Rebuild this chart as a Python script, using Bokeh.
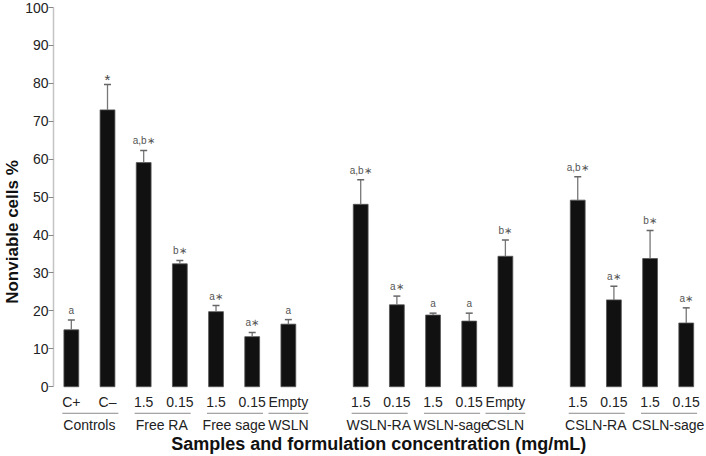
from bokeh.plotting import figure
from bokeh.models import Range1d, FixedTicker, ColumnDataSource
from bokeh.core.properties import value
from bokeh.embed import file_html
from bokeh.resources import INLINE

# ---- data ----
sub_labels = ["C+", "C–", "1.5", "0.15", "1.5", "0.15", "Empty",
              "1.5", "0.15", "1.5", "0.15", "Empty",
              "1.5", "0.15", "1.5", "0.15"]
groups = ["Controls", "Free RA", "Free sage", "WSLN",
          "WSLN-RA", "WSLN-sage", "CSLN",
          "CSLN-RA", "CSLN-sage"]
group_sizes = [2, 2, 2, 1, 2, 2, 1, 2, 2]
section_sizes = [4, 3, 2]  # number of groups per section (blank slot between sections)
values = [15.0, 73.0, 59.1, 32.4, 19.8, 13.2, 16.5,
          48.1, 21.6, 18.9, 17.3, 34.4,
          49.2, 22.9, 33.8, 16.8]
errors = [2.6, 6.7, 3.2, 0.9, 1.6, 1.1, 1.2,
          6.5, 2.3, 0.5, 2.1, 4.3,
          6.2, 3.6, 7.4, 4.0]
sig_labels = ["a", "*", "a,b∗", "b∗", "a∗", "a∗", "a",
              "a,b∗", "a∗", "a", "a", "b∗",
              "a,b∗", "a∗", "b∗", "a∗"]
yticks = [0, 10, 20, 30, 40, 50, 60, 70, 80, 90, 100]

# ---- positions (slot index, with an empty slot between sections) ----
xs = []
group_first, group_last = [], []
slot = 0
gi = 0
for s, ns in enumerate(section_sizes):
    for _ in range(ns):
        n = group_sizes[gi]
        group_first.append(slot)
        for _ in range(n):
            xs.append(slot)
            slot += 1
        group_last.append(slot - 1)
        gi += 1
    slot += 1  # gap

tops = [v + e for v, e in zip(values, errors)]

src = ColumnDataSource(dict(x=xs, v=values, top=tops, sub=sub_labels))
small_idx = [i for i, t in enumerate(sig_labels) if t != "*"]
big_idx = [i for i, t in enumerate(sig_labels) if t == "*"]
lab_small = ColumnDataSource(dict(x=[xs[i] for i in small_idx], top=[tops[i] for i in small_idx],
                                  lab=[sig_labels[i] for i in small_idx]))
lab_big = ColumnDataSource(dict(x=[xs[i] for i in big_idx], top=[tops[i] for i in big_idx],
                                lab=[sig_labels[i] for i in big_idx]))

FONT = "Liberation Sans"

p = figure(width=706, height=456, output_backend="svg", toolbar_location=None,
           x_range=Range1d(-0.493, 17.56), y_range=Range1d(-18.4, 100),
           x_axis_location=None,
           min_border_left=47, min_border_right=0, min_border_top=7, min_border_bottom=0)
p.outline_line_color = None
p.xgrid.visible = False
p.ygrid.visible = False
p.background_fill_color = "white"
p.border_fill_color = "white"

ya = p.yaxis[0]
ya.bounds = (0, 100)
ya.ticker = FixedTicker(ticks=yticks)
ya.axis_line_color = "#c4c4c4"
ya.axis_line_width = 1.5
ya.major_tick_line_color = "#888888"
ya.major_tick_out = 5
ya.major_tick_in = 0
ya.minor_tick_line_color = None
ya.major_label_text_font = FONT
ya.major_label_text_font_size = "14px"
ya.major_label_text_color = "#222222"
ya.major_label_standoff = 0
ya.axis_label = "Nonviable cells %"
ya.axis_label_text_font = FONT
ya.axis_label_text_font_style = "bold"
ya.axis_label_text_font_size = "17px"
ya.axis_label_text_color = "#111111"
ya.axis_label_standoff = 0

# bars
p.vbar(x="x", top="v", bottom=0, width=0.41, source=src,
       fill_color="#111111", line_color="#555555", line_width=0.8)
# error bars
p.segment(x0="x", y0="v", x1="x", y1="top", source=src, line_color="#777777", line_width=1.3)
p.scatter(x="x", y="top", marker="dash", size=7, source=src, line_color="#666666", line_width=1.5)
# significance labels
p.text(x="x", y="top", text="lab", source=lab_small, text_align="center", text_baseline="bottom",
       y_offset=-4, text_font=value(FONT), text_font_size="10px", text_color="#555555")
p.text(x="x", y="top", text="lab", source=lab_big, text_align="center", text_baseline="bottom",
       y_offset=4, text_font=value(FONT), text_font_size="15px", text_color="#444444")

# x sub labels
p.text(x="x", y=-3.9, text="sub", source=src, text_align="center", text_baseline="middle",
       text_font=value(FONT), text_font_size="14px", text_color="#222222")

# group underlines & names
gx0, gx1, gxc = [], [], []
for f, l in zip(group_first, group_last):
    if f == l:
        gx0.append(f - 0.55)
        gx1.append(l + 0.55)
    else:
        gx0.append(f - 0.25)
        gx1.append(l + 0.3)
    gxc.append((f + l) / 2)
gsrc = ColumnDataSource(dict(x0=gx0, x1=gx1, xc=gxc, name=groups))
p.segment(x0="x0", y0=-7.0, x1="x1", y1=-7.0, source=gsrc, line_color="#8a8a8a", line_width=1)
p.text(x="xc", y=-10.1, text="name", source=gsrc, text_align="center", text_baseline="middle",
       text_font=value(FONT), text_font_size="14px", text_color="#222222")

# x axis title
p.text(x=[(xs[0] + xs[-1]) / 2], y=[-15.2], text=["Samples and formulation concentration (mg/mL)"],
       text_align="center", text_baseline="middle", text_font=value(FONT),
       text_font_style="bold", text_font_size="18px", text_color="#111111")

open("out.html", "w").write(file_html(p, INLINE))
